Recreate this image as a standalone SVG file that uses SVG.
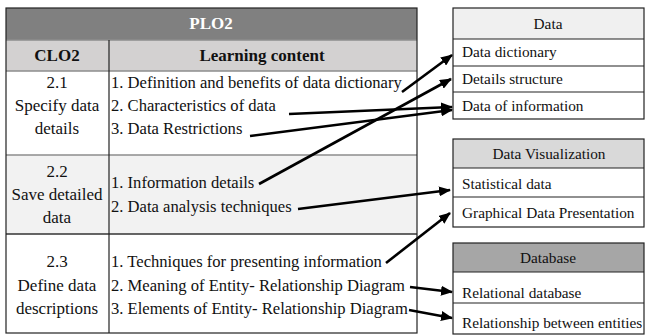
<svg xmlns="http://www.w3.org/2000/svg" width="645" height="336" viewBox="0 0 645 336">
  <defs>
    <marker id="arrow" viewBox="0 0 12 10" refX="11" refY="5" markerWidth="12" markerHeight="10" markerUnits="userSpaceOnUse" orient="auto">
      <path d="M0,0 L12,5 L0,10 Z" fill="#000"/>
    </marker>
    <style>
      .t { font-size: 16.6px; }
      .l { font-size: 17px; }
      .th { font-size: 17px; font-weight: bold; }
      .c { text-anchor: middle; }
      .b { font-size: 15.3px; }
      .grid { stroke: #222; stroke-width: 1.2; fill: none; }
      .sep { stroke: #8c8c8c; stroke-width: 1.5; }
      .box { stroke: #222; stroke-width: 1.2; fill: none; }
      .conn line { stroke: #000; stroke-width: 2.6; marker-end: url(#arrow); }
    </style>
  </defs>

  <rect width="645" height="336" fill="#fff"/>

  <g font-family="'Liberation Serif', 'Times New Roman', serif" fill="#111">
  <!-- PLO2 / CLO2 table -->
  <g id="plo-table">
    <rect x="6" y="8" width="411" height="32" fill="#808080"/>
    <rect x="6" y="40" width="411" height="31" fill="#d3d1d1"/>
    <rect x="6" y="155" width="411" height="79" fill="#f2f2f2"/>
    <line class="sep" x1="6" y1="40" x2="417" y2="40"/>
    <line class="sep" x1="6" y1="71" x2="417" y2="71"/>
    <line class="sep" x1="6" y1="155" x2="417" y2="155"/>
    <line x1="6" y1="234" x2="417" y2="234" stroke="#333" stroke-width="1.5"/>
    <line x1="109" y1="40" x2="109" y2="333" stroke="#222" stroke-width="1.2"/>
    <rect class="grid" x="6" y="8" width="411" height="325"/>
    <text class="th c" x="211" y="29" fill="#fff">PLO2</text>
    <text class="th c" x="57" y="61">CLO2</text>
    <text class="th c" x="262" y="61">Learning content</text>
  </g>

  <g id="clo-2-1">
    <text class="l c" x="57" y="88">2.1</text>
    <text class="l c" x="57" y="111">Specify data</text>
    <text class="l c" x="57" y="134">details</text>
    <text class="t" x="111" y="88">1. Definition and benefits of data dictionary</text>
    <text class="t" x="111" y="111">2. Characteristics of data</text>
    <text class="t" x="111" y="134">3. Data Restrictions</text>
  </g>

  <g id="clo-2-2">
    <text class="l c" x="57" y="177">2.2</text>
    <text class="l c" x="57" y="200">Save detailed</text>
    <text class="l c" x="57" y="223">data</text>
    <text class="t" x="111" y="188">1. Information details</text>
    <text class="t" x="111" y="212">2. Data analysis techniques</text>
  </g>

  <g id="clo-2-3">
    <text class="l c" x="57" y="267">2.3</text>
    <text class="l c" x="57" y="291">Define data</text>
    <text class="l c" x="57" y="314">descriptions</text>
    <text class="t" x="111" y="267">1. Techniques for presenting information</text>
    <text class="t" x="111" y="291">2. Meaning of Entity- Relationship Diagram</text>
    <text class="t" x="111" y="314">3. Elements of Entity- Relationship Diagram</text>
  </g>

  <!-- Topic boxes -->
  <g id="data">
    <rect x="453" y="8" width="191" height="31" fill="#f0f0f0"/>
    <rect class="box" x="453" y="8" width="191" height="111"/>
    <line class="grid" x1="453" y1="39" x2="644" y2="39"/>
    <line class="grid" x1="453" y1="66" x2="644" y2="66"/>
    <line class="grid" x1="453" y1="92" x2="644" y2="92"/>
    <text class="b c" x="548" y="29">Data</text>
    <text class="b" x="462" y="57">Data dictionary</text>
    <text class="b" x="462" y="84">Details structure</text>
    <text class="b" x="462" y="111">Data of information</text>
  </g>

  <g id="data-visualization">
    <rect x="453" y="139" width="191" height="29" fill="#d9d9d9"/>
    <rect class="box" x="453" y="139" width="191" height="88"/>
    <line class="grid" x1="453" y1="168" x2="644" y2="168"/>
    <line class="grid" x1="453" y1="197" x2="644" y2="197"/>
    <text class="b c" x="549" y="159">Data Visualization</text>
    <text class="b" x="462" y="189">Statistical data</text>
    <text class="b" x="462" y="218">Graphical Data Presentation</text>
  </g>

  <g id="database">
    <rect x="453" y="243" width="191" height="29" fill="#a6a6a6"/>
    <rect class="box" x="453" y="243" width="191" height="91"/>
    <line class="grid" x1="453" y1="272" x2="644" y2="272"/>
    <line class="grid" x1="453" y1="303" x2="644" y2="303"/>
    <text class="b c" x="548" y="263">Database</text>
    <text class="b" x="462" y="298">Relational database</text>
    <text class="b" x="462" y="328">Relationship between entities</text>
  </g>
  </g>

  <!-- Connectors -->
  <g id="connectors" class="conn">
    <line x1="402" y1="92" x2="452" y2="55"/>
    <line x1="259" y1="184" x2="451" y2="79"/>
    <line x1="289" y1="114" x2="452" y2="107"/>
    <line x1="250" y1="136" x2="452" y2="110"/>
    <line x1="298" y1="209" x2="450" y2="190"/>
    <line x1="386" y1="263" x2="450" y2="213"/>
    <line x1="410" y1="287" x2="452" y2="292"/>
    <line x1="409" y1="310" x2="452" y2="318"/>
  </g>
</svg>
